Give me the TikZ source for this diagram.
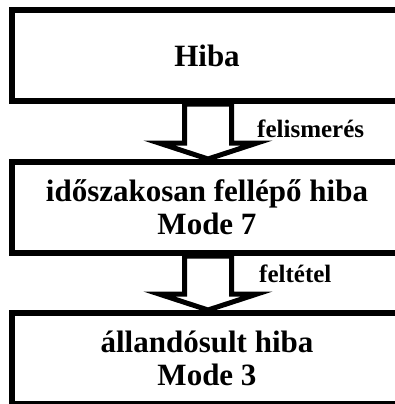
\documentclass[tikz,border=0pt]{standalone}
\usepackage{fontspec}
\setmainfont{Liberation Serif}
\begin{document}
\begin{tikzpicture}[x=1pt,y=-1pt,
  stage/.style={draw=black,line width=6pt,fill=white,rectangle,minimum width=390pt,
    minimum height=91pt,inner sep=0pt,align=center,
    font=\fontsize{31}{33}\selectfont\bfseries},
  bigarrow/.style={draw=black,line width=5pt,fill=white,line join=miter,miter limit=10},
  tag/.style={anchor=base west,inner sep=0pt,font=\fontsize{25}{28}\selectfont\bfseries}]
\useasboundingbox (0,0) rectangle (395,404);
\clip (0,0) rectangle (395,404);

% the three stages (their right edges run past the page)
\node[stage] (hiba) at (207,55.5) {Hiba};
\node[stage] (idoszakos) at (207,207.5) {időszakosan fellépő hiba\\Mode 7};
\node[stage] (allando) at (207,358.5) {állandósult hiba\\Mode 3};

% hollow block arrows between the stages
\draw[bigarrow] (hiba.south -| 184.5,0) -- (184.5,143) -- (159,143)
  -- (idoszakos.north -| 208,0) -- (257,143) -- (231.5,143)
  -- (hiba.south -| 231.5,0) -- cycle;
\draw[bigarrow] (idoszakos.south -| 184.5,0) -- (184.5,294) -- (159,294)
  -- (allando.north -| 208,0) -- (257,294) -- (231.5,294)
  -- (idoszakos.south -| 231.5,0) -- cycle;

\node[tag] (l1) at (257,137) {felismerés};
\node[tag] (l2) at (259,282) {feltétel};
\end{tikzpicture}
\end{document}
